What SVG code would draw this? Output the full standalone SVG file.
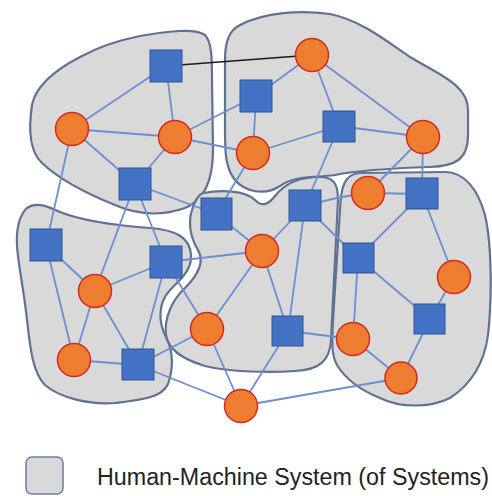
<svg xmlns="http://www.w3.org/2000/svg" width="492" height="496" viewBox="0 0 492 496">
<style>
.blob{fill:#d9d9d9;stroke:#5f7292;stroke-width:2.2}
.e{stroke:#6d8ecf;stroke-width:1.8;fill:none}
.sq{fill:#4472c4;stroke:#2f5597;stroke-width:1}
.ci{fill:#ed7d31;stroke:#d42a1c;stroke-width:1.5}
.lbl{font-family:"Liberation Sans",Arial,sans-serif;font-size:23px;fill:#222}
</style>
<rect width="492" height="496" fill="#fff"/>
<g id="systems">
<path id="sys1" class="blob" d="M140,36 C170,31 195,28 205,35 C212,42 212,60 212,80 L213,150 C213,180 205,200 185,208 C165,215 140,216 115,205 C90,195 60,180 42,163 C28,150 29,125 32,105 C36,85 55,70 80,57 C100,46 120,40 140,36 Z"/>
<path id="sys2" class="blob" d="M240,25 C265,12 300,10 330,14 C360,20 385,40 410,57 C440,75 468,85 468,110 L468,135 C468,160 455,166 430,167 C400,168 360,170 335,175 C315,178 295,175 280,186 C265,196 245,192 235,180 C225,168 225,150 225,130 L225,60 C225,40 230,30 240,25 Z"/>
<path id="sys3" class="blob" d="M27,208 C35,202 45,205 60,212 C80,220 110,225 150,228 C175,230 190,237 191,255 C192,270 180,280 170,290 C158,303 158,322 166,337 C174,352 173,370 168,384 C162,398 140,400 115,403 C90,405 60,398 45,385 C32,372 30,345 27,320 C24,290 18,265 17,245 C16,228 20,214 27,208 Z"/>
<path id="sys4" class="blob" d="M203,193 C220,190 245,190 255,200 C262,207 268,205 275,196 C285,183 300,177 320,177 C333,177 338,183 338,200 L335,260 L331,340 C330,360 320,370 295,371 C270,373 230,372 205,366 C185,360 168,350 166,335 C164,318 172,300 185,288 C198,275 205,262 198,250 C190,237 188,222 192,210 C195,200 198,195 203,193 Z"/>
<path id="sys5" class="blob" d="M360,173 L445,172 C465,172 478,190 485,215 C492,245 492,300 488,335 C484,365 470,385 450,398 C430,408 400,408 380,398 C360,390 345,378 337,365 C331,355 332,340 333,320 L340,210 C341,185 345,174 360,173 Z"/>
</g>
<g id="connectors">
<path class="e" d="M166,66 L72,129 M166,66 L175,137 M72,129 L175,137 M72,129 L135,184 M175,137 L135,184 M175,137 L256,96 M175,137 L253,153 M72,129 L46,245 M135,184 L95,291 M135,184 L166,262 M135,184 L216,214 M253,153 L216,214"/>
<path class="e" d="M312,55 L256,96 M312,55 L339,126 M312,55 L423,137 M256,96 L253,153 M253,153 L339,126 M339,126 L423,137 M339,126 L305,206 M423,137 L368,193 M423,137 L422,194"/>
<path class="e" d="M46,245 L95,291 M46,245 L74,360 M95,291 L166,262 M95,291 L74,360 M95,291 L138,365 M74,360 L138,365 M166,262 L138,365 M166,262 L262,251 M166,262 L207,329 M138,365 L207,329 M138,365 L241,406 M216,214 L262,251"/>
<path class="e" d="M305,206 L262,251 M305,206 L288,331 M305,206 L358,258 M305,206 Q340,196 368,193 M262,251 L207,329 M262,251 L288,331 M288,331 L353,339 M288,331 L241,406 M241,406 L401,378 M207,329 L241,406"/>
<path class="e" d="M368,193 L422,194 M422,194 L358,258 M422,194 L454,277 M358,258 L430,319 M358,258 L353,339 M454,277 L430,319 M430,319 L401,378 M353,339 L401,378"/>
<path d="M166,66 L312,55" stroke="#1a1a1a" stroke-width="1.5" fill="none"/>
</g>
<g id="A"><rect class="sq" x="150" y="50" width="32" height="32"/></g>
<g id="B"><circle class="ci" cx="72" cy="129" r="16.5"/></g>
<g id="C"><circle class="ci" cx="175" cy="137" r="16.5"/></g>
<g id="D"><rect class="sq" x="119" y="168" width="32" height="32"/></g>
<g id="E"><circle class="ci" cx="312" cy="55" r="16.5"/></g>
<g id="F"><rect class="sq" x="240" y="80" width="32" height="32"/></g>
<g id="G"><circle class="ci" cx="253" cy="153" r="16.5"/></g>
<g id="H"><rect class="sq" x="323" y="111" width="32" height="31"/></g>
<g id="I"><circle class="ci" cx="423" cy="137" r="16.5"/></g>
<g id="J"><circle class="ci" cx="368" cy="193" r="16.5"/></g>
<g id="K"><rect class="sq" x="406" y="178" width="32" height="31"/></g>
<g id="L"><rect class="sq" x="289" y="190" width="32" height="31"/></g>
<g id="M"><rect class="sq" x="30" y="229" width="32" height="32"/></g>
<g id="N"><circle class="ci" cx="95" cy="291" r="16.5"/></g>
<g id="O"><rect class="sq" x="150" y="246" width="32" height="32"/></g>
<g id="P"><circle class="ci" cx="74" cy="360" r="16.5"/></g>
<g id="Q"><rect class="sq" x="122" y="349" width="32" height="31"/></g>
<g id="R"><circle class="ci" cx="207" cy="329" r="16.5"/></g>
<g id="S"><rect class="sq" x="201" y="198" width="31" height="32"/></g>
<g id="T"><circle class="ci" cx="241" cy="406" r="16.5"/></g>
<g id="U"><circle class="ci" cx="262" cy="251" r="16.5"/></g>
<g id="V"><rect class="sq" x="272" y="316" width="31" height="30"/></g>
<g id="W"><rect class="sq" x="343" y="243" width="31" height="30"/></g>
<g id="X"><circle class="ci" cx="454" cy="277" r="16.5"/></g>
<g id="Y"><rect class="sq" x="414" y="304" width="31" height="30"/></g>
<g id="Z"><circle class="ci" cx="353" cy="339" r="16.5"/></g>
<g id="AA"><circle class="ci" cx="401" cy="378" r="16"/></g>
<g id="legend">
<rect x="26" y="457" width="37" height="37" rx="6" fill="#d9d9d9" stroke="#6a7fa0" stroke-width="1.5"/>
<text class="lbl" x="97" y="485" textLength="392" lengthAdjust="spacingAndGlyphs">Human-Machine System (of Systems)</text>
</g>
</svg>
